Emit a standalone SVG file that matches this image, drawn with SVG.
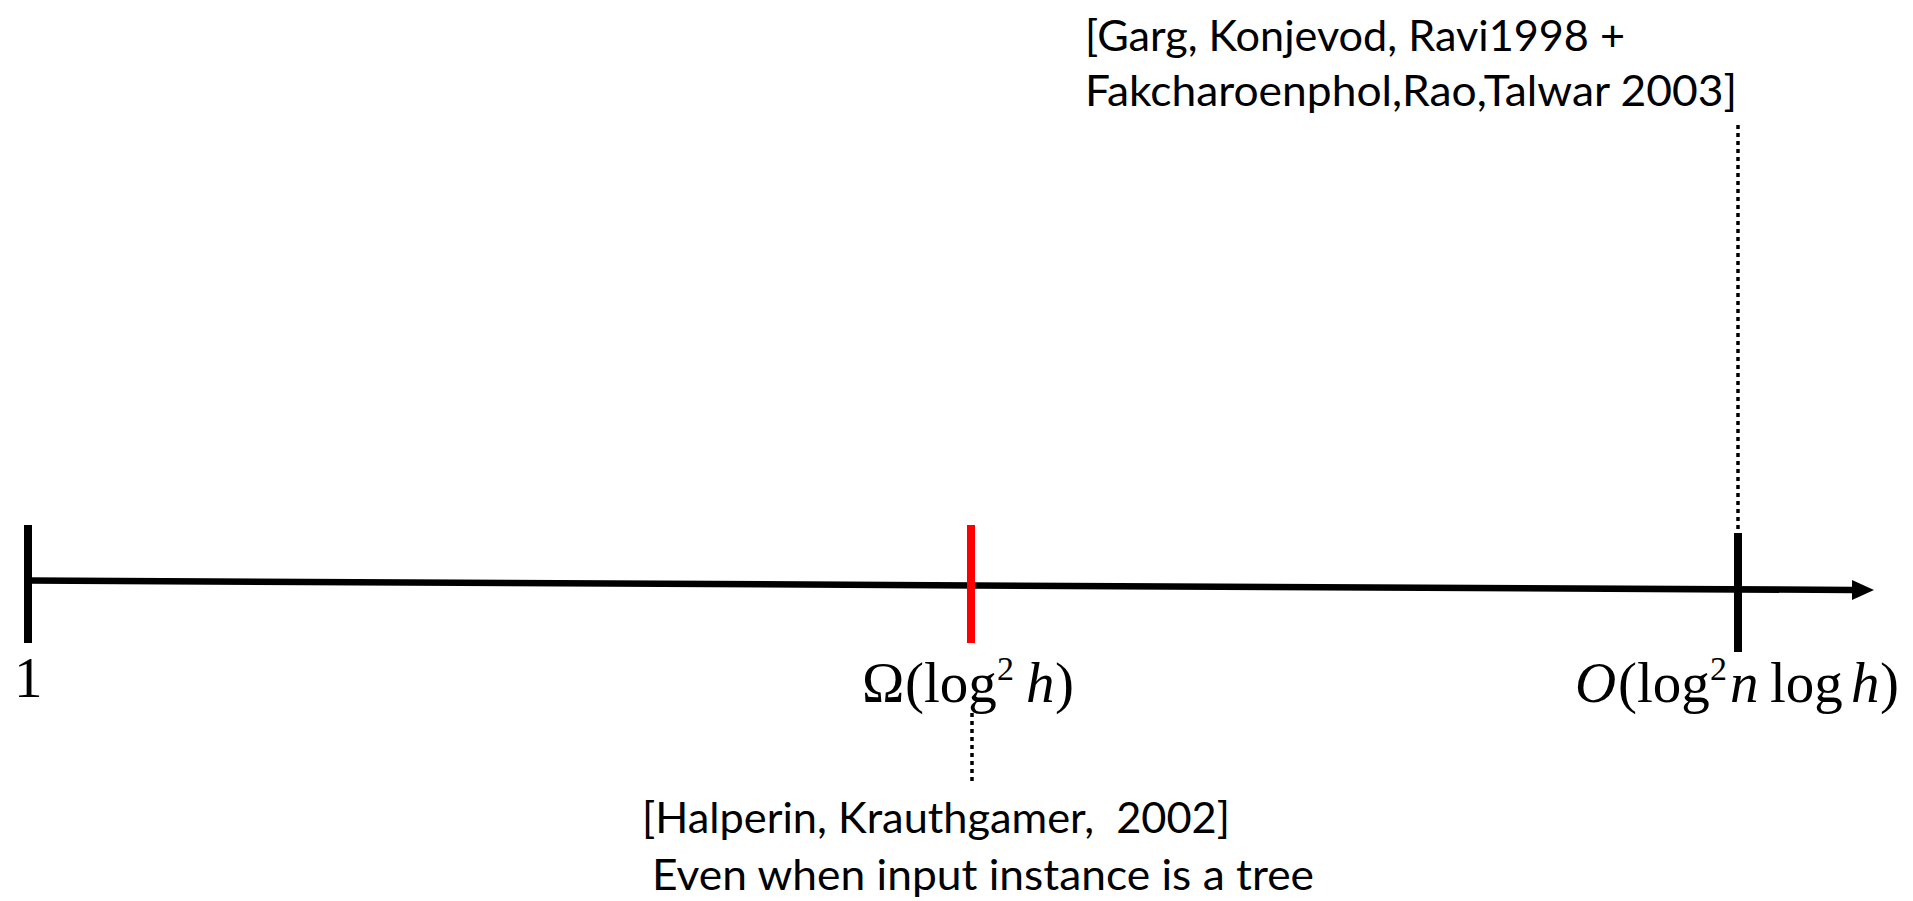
<svg xmlns="http://www.w3.org/2000/svg" width="1913" height="901" viewBox="0 0 1913 901">
<style>
.sans{font-family:"Lato","Liberation Sans",sans-serif;font-size:43px;fill:#000;white-space:pre}
.math{font-family:"Liberation Serif","DejaVu Serif",serif;font-size:57px;fill:#000}
.it{font-style:italic}
.sup{font-size:34px}
.tick{stroke-width:8;fill:none}
.dot{stroke:#000;stroke-width:3.5;stroke-dasharray:4 4;fill:none}
</style>
<defs>
<marker id="arrow" markerUnits="userSpaceOnUse" markerWidth="24" markerHeight="22" refX="0" refY="10" orient="auto">
<path d="M0,0 L22,10 L0,20 z" fill="#000"/>
</marker>
</defs>
<g id="connectors">
<path id="axis" d="M28,580.5 L1852,590" stroke="#000" stroke-width="6.5" fill="none" marker-end="url(#arrow)"/>
<path d="M1738,125 L1738,533" class="dot"/>
<path d="M972,713 L972,783" class="dot"/>
</g>
<g id="tick-1">
<path d="M28,525 L28,643" class="tick" stroke="#000"/>
<text class="math" x="14" y="697">1</text>
</g>
<g id="tick-lower">
<path d="M971,525 L971,643" class="tick" stroke="#FF0000"/>
<text class="math" y="702"><tspan x="862">Ω</tspan><tspan x="905">(log</tspan><tspan class="sup" x="997" y="680">2</tspan><tspan class="it" x="1026" y="702">h</tspan><tspan x="1055">)</tspan></text>
</g>
<g id="tick-upper">
<path d="M1738,533 L1738,652" class="tick" stroke="#000"/>
<text class="math" y="702"><tspan class="it" x="1575">O</tspan><tspan x="1618">(log</tspan><tspan class="sup" x="1710" y="680">2</tspan><tspan class="it" x="1730" y="702">n</tspan><tspan x="1770">log</tspan><tspan class="it" x="1851">h</tspan><tspan x="1880">)</tspan></text>
</g>
<g id="ref-upper">
<text class="sans" x="1085" y="51" textLength="540" lengthAdjust="spacingAndGlyphs">[Garg, Konjevod, Ravi1998 +</text>
<text class="sans" x="1085" y="106" textLength="652" lengthAdjust="spacingAndGlyphs">Fakcharoenphol,Rao,Talwar 2003]</text>
</g>
<g id="ref-lower">
<text class="sans" x="642" y="833" textLength="588" lengthAdjust="spacingAndGlyphs">[Halperin, Krauthgamer,  2002]</text>
<text class="sans" x="652" y="890" textLength="662" lengthAdjust="spacingAndGlyphs">Even when input instance is a tree</text>
</g>
</svg>
